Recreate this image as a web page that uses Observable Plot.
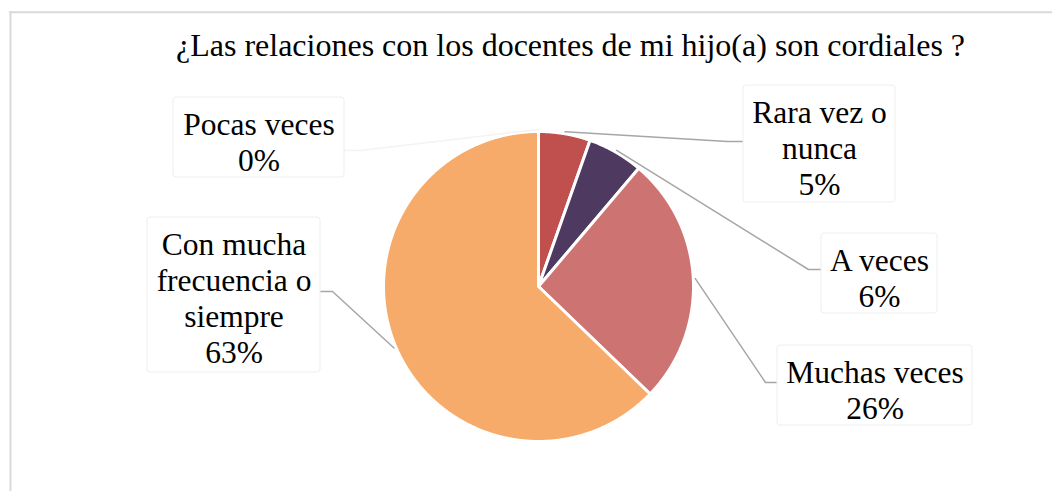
<!DOCTYPE html>
<html><head><meta charset="utf-8">
<script src="https://cdn.jsdelivr.net/npm/d3@7"></script>
<script src="https://cdn.jsdelivr.net/npm/@observablehq/plot@0.6"></script>
<style>
body{margin:0;background:#fff}
#chart svg text{font-family:"Liberation Serif","Times New Roman",serif !important;}
</style>
</head><body><div id="chart"></div>
<script>
// ---- data ----
const title = "¿Las relaciones con los docentes de mi hijo(a) son cordiales ?";
const categories = ["Pocas veces", "Rara vez o nunca", "A veces", "Muchas veces", "Con mucha frecuencia o siempre"];
const labelLines = ["Pocas veces", "Rara vez o\nnunca", "A veces", "Muchas veces", "Con mucha\nfrecuencia o\nsiempre"];
const values = [0, 5.4, 5.8, 26.0, 62.8];
const colors = ["#9bbb59", "#c0504d", "#4e3a61", "#cd7372", "#f7ab6a"];

// ---- layout ----
const W = 1052, H = 491, cx = 538, cy = 286, r = 155;
const layout = [
  {x1: 173, x2: 344, y1: 97, y2: 177, ly: 150, bend: 360, faint: true},
  {x1: 743, x2: 895, y1: 85, y2: 202, ly: 141, bend: 727},
  {x1: 821, x2: 937, y1: 233, y2: 313, ly: 269, bend: 808},
  {x1: 777, x2: 972, y1: 345, y2: 425, ly: 382, bend: 765},
  {x1: 147, x2: 320, y1: 217, y2: 372, ly: 291, bend: 332}
];

const rows = categories.map((c, i) => ({key: c, value: values[i], label: labelLines[i], box: layout[i]}));
const arcs = d3.pie().sort(null).value(d => d.value)(rows);
const pt = (a, rr) => [cx + rr * Math.sin(a), cy - rr * Math.cos(a)];

const slicePts = [];
arcs.forEach(a => {
  if (a.endAngle - a.startAngle <= 0) return;
  const k = a.data.key;
  slicePts.push({k, p: [cx, cy]});
  const n = Math.max(2, Math.ceil((a.endAngle - a.startAngle) / (Math.PI / 720)));
  for (let i = 0; i <= n; i++) {
    const t = a.startAngle + (a.endAngle - a.startAngle) * i / n;
    slicePts.push({k, p: pt(t, r)});
  }
  slicePts.push({k, p: [cx, cy]});
});

const leaders = [];
arcs.forEach(a => {
  const b = a.data.box;
  const mid = (a.startAngle + a.endAngle) / 2;
  const s = pt(mid, r + 2);
  const leftSide = b.x2 < cx;
  const end = leftSide ? b.x2 : b.x1;
  [s, [b.bend, b.ly], [end, b.ly]].forEach(p => leaders.push({k: a.data.key, p, faint: !!b.faint}));
});

const font = "Liberation Serif, Times New Roman, serif";

const chart = Plot.plot({
  width: W, height: H, margin: 0,
  style: {background: "#fff", fontFamily: font},
  x: {domain: [0, W], range: [0, W], axis: null},
  y: {domain: [0, H], range: [0, H], axis: null},
  color: {domain: categories, range: colors},
  marks: [
    Plot.ruleX([10], {y1: 11, y2: H, stroke: "#d9d9d9", strokeWidth: 2}),
    Plot.ruleY([11.7], {x1: 9, x2: W, stroke: "#d9d9d9", strokeWidth: 2}),
    Plot.text([title], {x: 570, y: 45, text: d => d, fontSize: 32, fontFamily: font, fill: "#000"}),
    Plot.line(slicePts, {x: d => d.p[0], y: d => d.p[1], z: "k", fill: "k", stroke: "#fff", strokeWidth: 3, strokeLinejoin: "round", curve: "linear"}),
    Plot.line(leaders.filter(d => !d.faint), {x: d => d.p[0], y: d => d.p[1], z: "k", stroke: "#a6a6a6", strokeWidth: 1.5}),
    Plot.line(leaders.filter(d => d.faint), {x: d => d.p[0], y: d => d.p[1], z: "k", stroke: "#f3f3f3", strokeWidth: 1.5}),
    Plot.rect(rows, {x1: d => d.box.x1, x2: d => d.box.x2, y1: d => d.box.y1, y2: d => d.box.y2, fill: "#fff", stroke: "#eeeeee", strokeWidth: 1, rx: 3}),
    Plot.text(rows, {x: d => (d.box.x1 + d.box.x2) / 2, y: d => d.box.y1 + 11.6, text: d => d.label + "\n" + Math.round(d.value) + "%", lineAnchor: "top", lineHeight: 1.15, fontSize: 31.5, fontFamily: font, fill: "#000"})
  ]
});
document.getElementById("chart").appendChild(chart);
</script>
</body></html>
